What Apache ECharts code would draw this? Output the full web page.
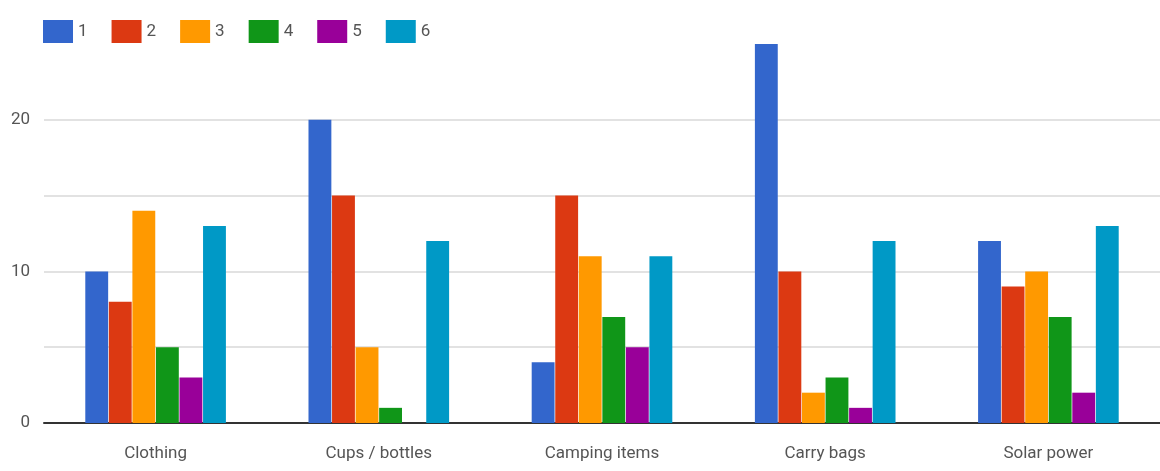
<!DOCTYPE html>
<html>
<head>
<meta charset="utf-8">
<script src="https://cdn.jsdelivr.net/npm/echarts@6/dist/echarts.min.js"></script>
<style>
  html, body { margin: 0; padding: 0; background: #fff; }
  #chart { width: 1160px; height: 471px; }
</style>
</head>
<body>
<div id="chart"></div>
<script>
// Categories along the x axis
const categories = ['Clothing', 'Cups / bottles', 'Camping items', 'Carry bags', 'Solar power'];

// One series per rating 1..6
const seriesNames = ['1', '2', '3', '4', '5', '6'];
const s1 = [10, 20, 4, 25, 12];
const s2 = [8, 15, 15, 10, 9];
const s3 = [14, 5, 11, 2, 10];
const s4 = [5, 1, 7, 3, 7];
const s5 = [3, 0, 5, 1, 2];
const s6 = [13, 12, 11, 12, 13];
const seriesValues = [s1, s2, s3, s4, s5, s6];

const colors = ['#3366cc', '#dc3912', '#ff9900', '#109618', '#990099', '#0099c6'];
const font = "'Roboto', 'Liberation Sans', sans-serif";

const chart = echarts.init(document.getElementById('chart'), null, { renderer: 'canvas' });

chart.setOption({
  animation: false,
  color: colors,
  textStyle: { fontFamily: font },
  legend: {
    left: 38,
    top: 15,
    itemWidth: 30,
    itemHeight: 23,
    itemGap: 24,
    icon: 'rect',
    textStyle: { fontFamily: font, fontSize: 17, color: '#555' },
    data: seriesNames
  },
  grid: { left: 44, right: -4, top: 44, bottom: 48 },
  xAxis: {
    type: 'category',
    data: categories,
    axisTick: { show: false },
    axisLine: { lineStyle: { color: '#333', width: 2 } },
    axisLabel: { fontFamily: font, fontSize: 17, color: '#555', margin: 22 }
  },
  yAxis: {
    type: 'value',
    min: 0,
    max: 25,
    interval: 5,
    axisLine: { show: false },
    axisTick: { show: false },
    axisLabel: {
      fontFamily: font, fontSize: 17, color: '#555', margin: 14,
      formatter: v => (v % 10 === 0 ? String(v) : '')
    },
    splitLine: {
      lineStyle: {
        width: 2,
        // the last line (top of the range) is left out
        color: ['#e2e2e2', '#e2e2e2', '#e2e2e2', '#e2e2e2', '#e2e2e2', 'rgba(0,0,0,0)']
      }
    }
  },
  series: seriesNames.map((name, i) => ({
    name,
    type: 'bar',
    data: seriesValues[i],
    barGap: '3%',
    barCategoryGap: '37%'
  }))
});
</script>
</body>
</html>
